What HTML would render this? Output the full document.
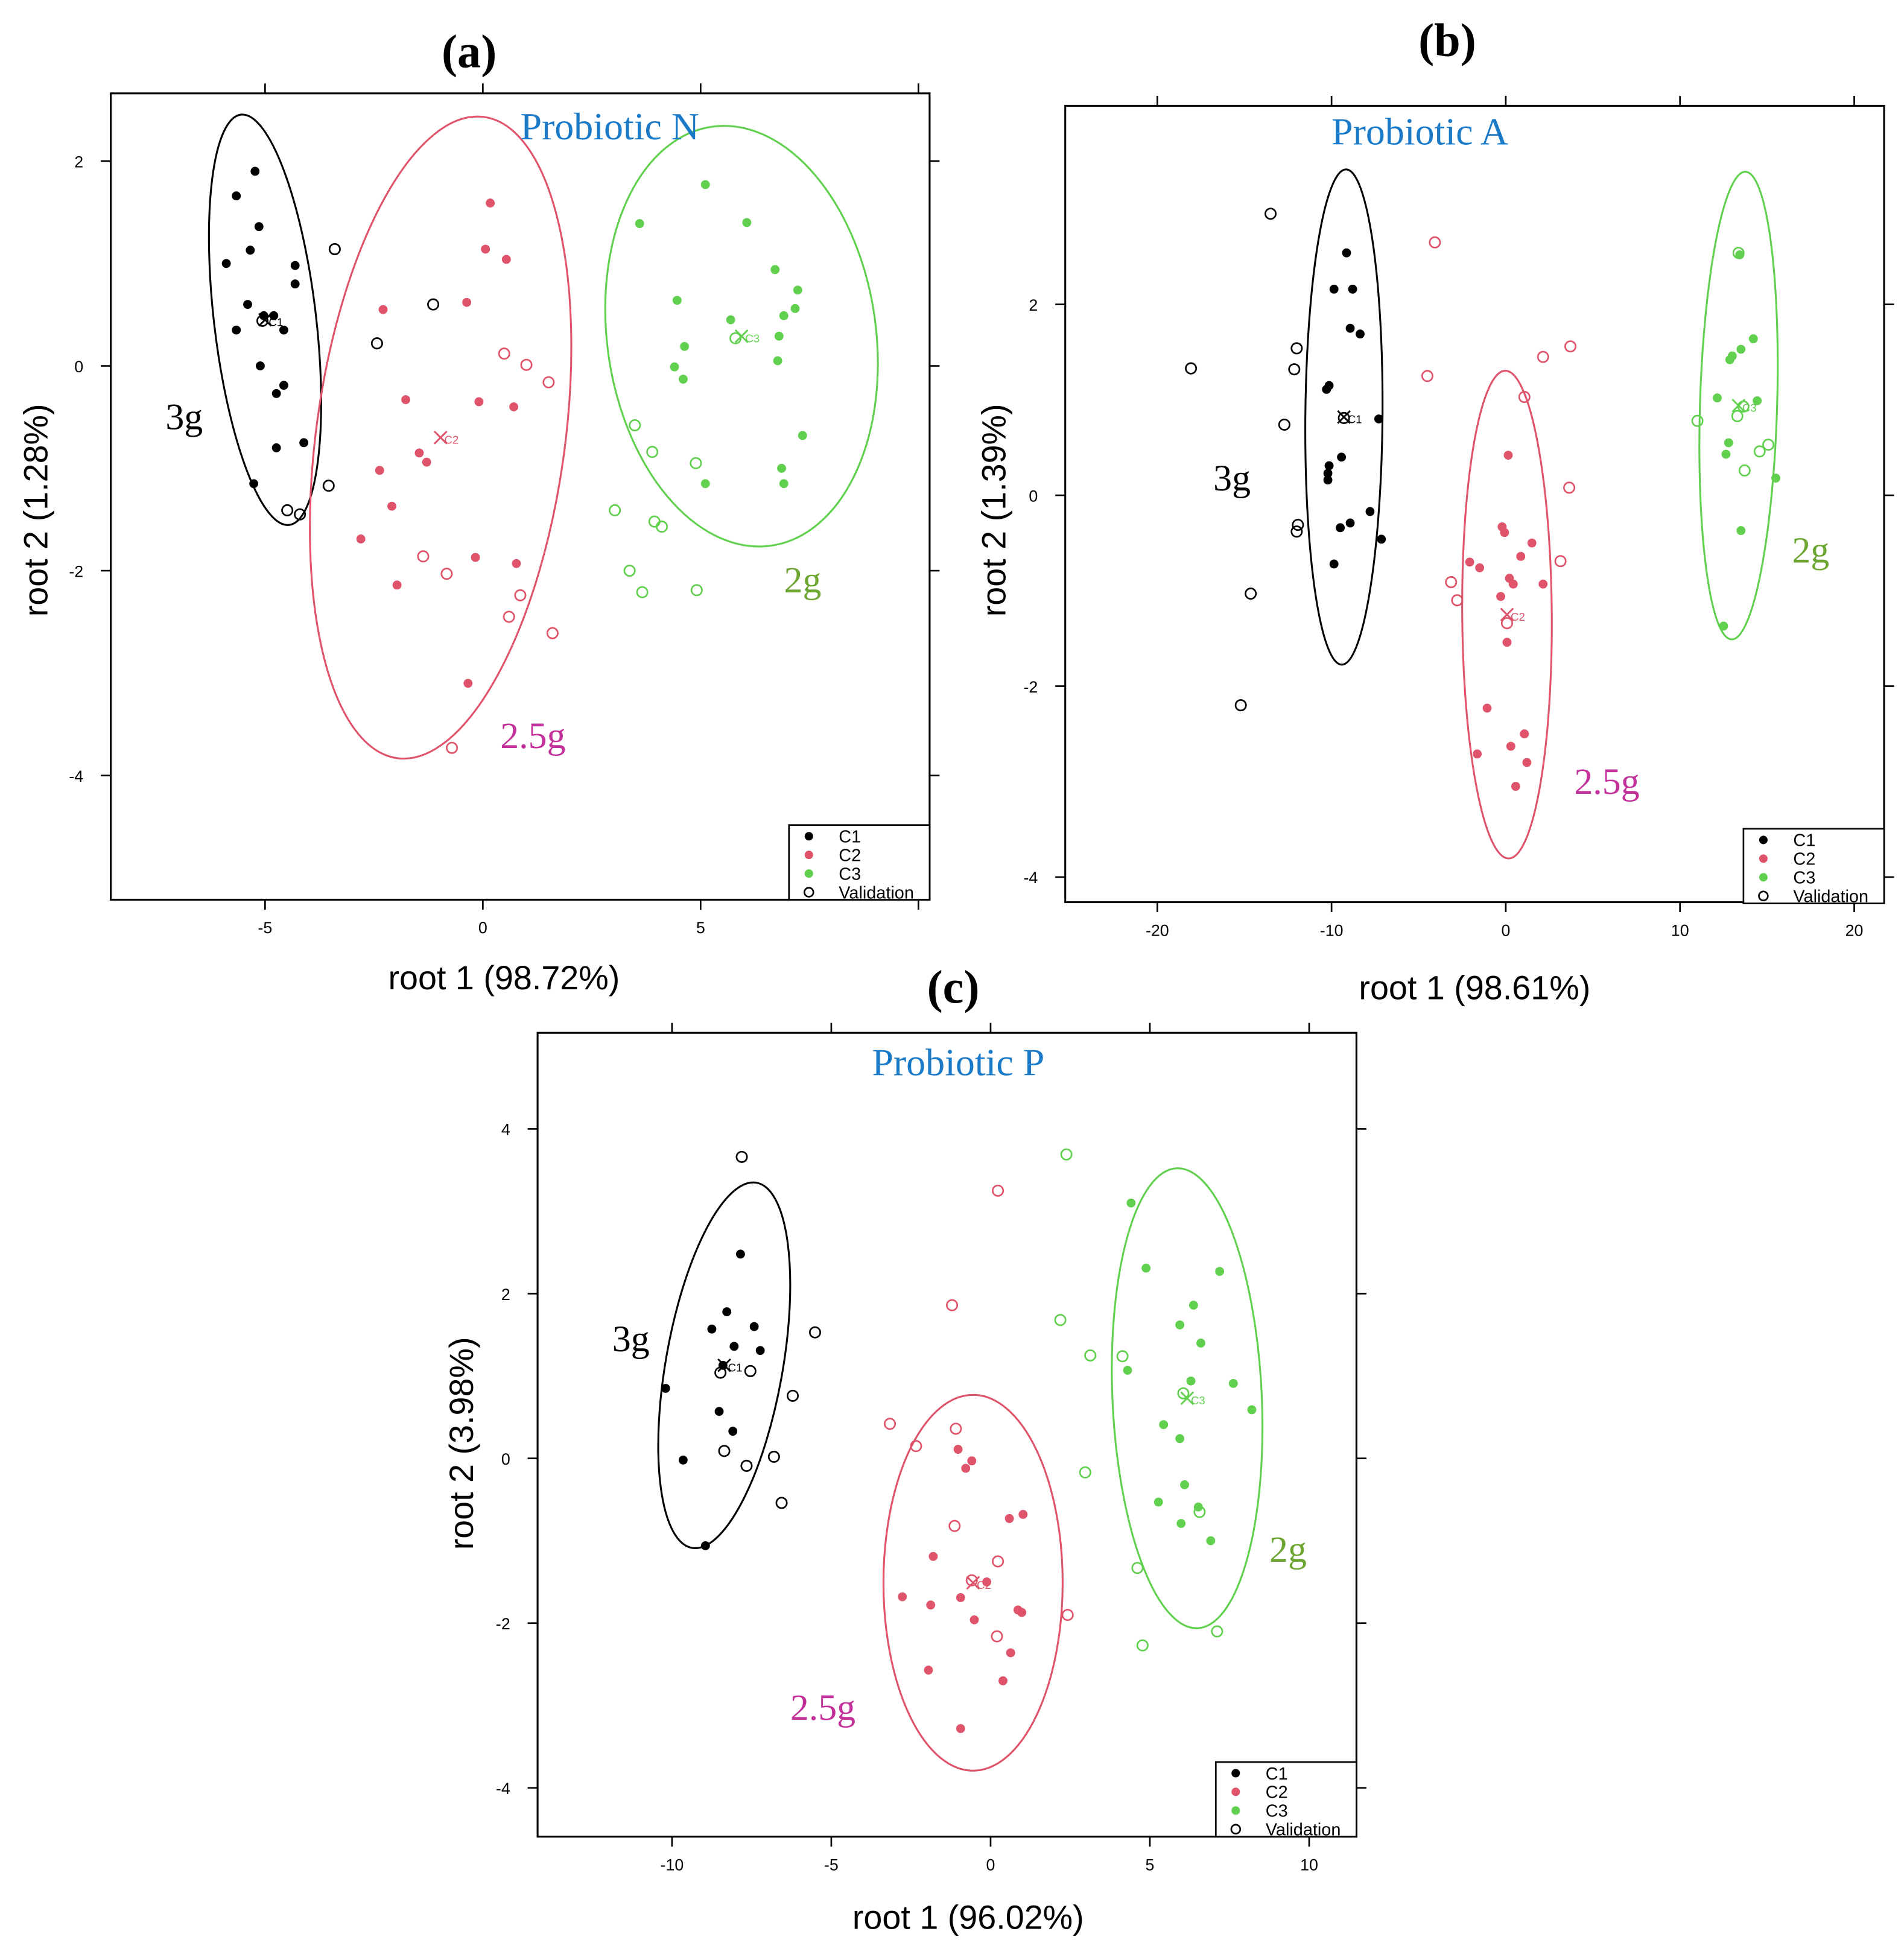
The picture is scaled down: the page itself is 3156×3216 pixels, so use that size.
<!DOCTYPE html>
<html><head><meta charset="utf-8"><style>
html,body{margin:0;padding:0;background:#fff;}
svg{display:block;}
</style></head><body>
<svg id="fig" xmlns="http://www.w3.org/2000/svg" width="3156" height="3216" viewBox="0 0 1530 1559">
<rect x="0" y="0" width="1530" height="1559" fill="#fff"/>
</svg>
<script>
// ---------- Panel (a) data ----------
const aC1x=[-5.23,-5.66,-5.14,-5.34,-5.89,-4.31,-4.31,-5.4,-5.66,-4.8,-4.57,-5.11,-4.57,-4.74,-4.74,-4.11,-5.26,-5.03];
const aC1y=[1.90,1.66,1.36,1.13,1.00,0.98,0.80,0.60,0.35,0.49,0.35,0,-0.19,-0.27,-0.8,-0.75,-1.15,0.49];
const aV1x=[-3.4,-1.14,-2.43,-3.54,-4.49,-4.2,-5.06];
const aV1y=[1.14,0.6,0.22,-1.17,-1.41,-1.45,0.44];
const aC2x=[0.17,0.06,0.54,-2.29,-0.37,-1.77,-0.09,0.71,-1.46,-1.29,-2.37,-2.09,-2.8,-0.17,0.77,-1.97,-0.34];
const aC2y=[1.59,1.14,1.04,0.55,0.62,-0.33,-0.35,-0.4,-0.85,-0.94,-1.02,-1.37,-1.69,-1.87,-1.93,-2.14,-3.1];
const aV2x=[0.49,1.0,1.51,-1.37,-0.83,0.86,0.6,1.6,-0.71];
const aV2y=[0.12,0.01,-0.16,-1.86,-2.03,-2.24,-2.45,-2.61,-3.73];
const aC3x=[5.11,3.6,6.06,6.71,7.23,4.46,7.17,6.91,5.69,6.8,4.63,6.77,4.4,4.6,7.34,6.86,6.91,5.11];
const aC3y=[1.77,1.39,1.4,0.94,0.74,0.64,0.56,0.49,0.45,0.29,0.19,0.05,-0.01,-0.13,-0.68,-1.0,-1.15,-1.15];
const aV3x=[5.8,3.49,3.89,4.89,3.03,3.94,4.11,3.37,3.66,4.91];
const aV3y=[0.27,-0.58,-0.84,-0.95,-1.41,-1.52,-1.57,-2.0,-2.21,-2.19];
const aCentX=[-5.0,-0.97,5.94];
const aCentY=[0.45,-0.7,0.29];
const aXTicks=[-5,0,5,10];
const aYTicks=[2,0,-2,-4];
// ---------- Panel (b) data ----------
const bC1x=[-9.14,-9.86,-8.79,-8.93,-8.36,-10.14,-10.29,-7.29,-9.43,-10.14,-10.21,-10.21,-7.79,-8.93,-9.5,-7.14,-9.86];
const bC1y=[2.54,2.16,2.16,1.75,1.69,1.15,1.11,0.8,0.4,0.31,0.23,0.16,-0.17,-0.29,-0.34,-0.46,-0.72];
const bV1x=[-13.5,-18.07,-12,-12.14,-12.71,-11.93,-12,-14.64,-15.21,-9.29];
const bV1y=[2.95,1.33,1.54,1.32,0.74,-0.31,-0.38,-1.03,-2.2,0.81];
const bC2x=[0.14,-0.21,-0.07,1.5,-2.07,0.86,-1.5,0.21,0.43,2.14,-0.29,0.07,-1.07,1.07,0.29,-1.64,1.21,0.57];
const bC2y=[0.42,-0.33,-0.39,-0.5,-0.7,-0.64,-0.76,-0.87,-0.93,-0.93,-1.06,-1.54,-2.23,-2.5,-2.63,-2.71,-2.8,-3.05];
const bV2x=[-4.07,3.71,-4.5,2.14,1.07,3.64,3.14,-3.14,-2.79,0.07];
const bV2y=[2.65,1.56,1.25,1.45,1.03,0.08,-0.69,-0.91,-1.1,-1.34];
const bC3x=[13.43,14.21,13.5,13,12.86,12.14,14.43,12.79,12.64,15.5,13.5,12.5];
const bC3y=[2.52,1.64,1.53,1.46,1.42,1.02,0.99,0.55,0.43,0.18,-0.37,-1.37];
const bV3x=[13.36,11,13.64,15.07,14.57,13.71,13.29];
const bV3y=[2.54,0.78,0.93,0.53,0.46,0.26,0.83];
const bCentX=[-9.29,0.07,13.36];
const bCentY=[0.82,-1.25,0.94];
const bXTicks=[-20,-10,0,10,20];
const bYTicks=[2,0,-2,-4];
// ---------- Panel (c) data ----------
const cC1x=[-7.85,-8.28,-8.75,-7.42,-8.05,-7.23,-8.4,-10.2,-8.52,-8.09,-9.65,-8.95];
const cC1y=[2.48,1.78,1.57,1.6,1.36,1.31,1.13,0.85,0.57,0.33,-0.02,-1.06];
const cV1x=[-7.81,-5.51,-7.54,-6.21,-8.36,-6.8,-7.66,-6.56,-8.48];
const cV1y=[3.66,1.53,1.06,0.76,0.09,0.02,-0.09,-0.54,1.04];
const cC2x=[-1.02,-0.59,-0.78,-1.8,0.59,1.02,-0.12,-0.94,-2.77,-1.88,0.86,0.98,-0.51,0.63,-1.95,0.39,-0.94];
const cC2y=[0.11,-0.03,-0.12,-1.19,-0.73,-0.68,-1.5,-1.69,-1.68,-1.78,-1.84,-1.87,-1.96,-2.36,-2.57,-2.7,-3.28];
const cV2x=[0.23,-1.21,-3.16,-1.09,-2.34,-1.13,0.23,2.42,0.2,-0.59];
const cV2y=[3.25,1.86,0.42,0.36,0.15,-0.82,-1.25,-1.9,-2.16,-1.48];
const cC3x=[4.41,4.88,7.19,6.37,5.94,6.6,4.3,7.62,6.29,8.2,5.43,5.94,6.09,5.27,6.52,5.98,6.91];
const cC3y=[3.1,2.31,2.27,1.86,1.62,1.4,1.07,0.91,0.94,0.59,0.41,0.24,-0.32,-0.53,-0.59,-0.79,-1.0];
const cV3x=[2.38,2.19,3.13,4.14,6.05,2.97,6.56,4.61,7.11,4.77];
const cV3y=[3.69,1.68,1.25,1.24,0.79,-0.17,-0.65,-1.33,-2.1,-2.27];
const cCentX=[-8.36,-0.55,6.17];
const cCentY=[1.13,-1.51,0.73];
const cXTicks=[-10,-5,0,5,10];
const cYTicks=[4,2,0,-2,-4];

const NS='http://www.w3.org/2000/svg';
const svg=document.getElementById('fig');
const COL=['#000000','#df536b','#61d04f'];
function mk(tag,attrs,parent){const e=document.createElementNS(NS,tag);for(const k in attrs)e.setAttribute(k,attrs[k]);(parent||svg).appendChild(e);return e;}

function panel(cfg){
  const g=mk('g',{});
  
  
  const sx=v=>cfg.x0px+(v-cfg.x0)*cfg.kx;
  const sy=v=>cfg.y0px-(v-cfg.y0)*cfg.ky;
  const B=cfg.box;
  // ellipses
  cfg.ell.forEach((e,i)=>{
    const el=mk('ellipse',{cx:0,cy:0,rx:e[0],ry:e[1],fill:'none',stroke:COL[i],'stroke-width':1.5,
      transform:`translate(${sx(cfg.cx[i])},${sy(cfg.cy[i])}) rotate(${e[2]})`},g);
    
    
  });
  // points
  const sets=[[cfg.c1x,cfg.c1y,0,true],[cfg.v1x,cfg.v1y,0,false],[cfg.c2x,cfg.c2y,1,true],[cfg.v2x,cfg.v2y,1,false],[cfg.c3x,cfg.c3y,2,true],[cfg.v3x,cfg.v3y,2,false]];
  sets.forEach(s=>{
    s[0].forEach((xv,j)=>{
      const c=mk('circle',{cx:sx(xv),cy:sy(s[1][j]),r:s[3]?3.6:4.2,fill:s[3]?COL[s[2]]:'none',stroke:s[3]?'none':COL[s[2]],'stroke-width':1.3},g);
      
      
    });
  });
  // centroids
  cfg.cx.forEach((xv,i)=>{
    const px=sx(xv),py=sy(cfg.cy[i]);
    const cg=mk('g',{stroke:COL[i],'stroke-width':1.4},g);
    
    
    mk('line',{x1:px-5,y1:py-5,x2:px+5,y2:py+5},cg);
    mk('line',{x1:px-5,y1:py+5,x2:px+5,y2:py-5},cg);
    const t=mk('text',{x:px+3,y:py+5,'font-size':9,fill:COL[i],stroke:'none','font-family':'Liberation Sans, sans-serif'},cg);
    t.textContent='C'+(i+1);
  });
  // frame
  const fr=mk('rect',{x:B[0],y:B[1],width:B[2]-B[0],height:B[3]-B[1],fill:'none',stroke:'#000','stroke-width':1.5},g);
  
  
  // ticks
  cfg.xt.forEach(v=>{
    const px=sx(v);
    mk('line',{x1:px,y1:B[3],x2:px,y2:B[3]+8,stroke:'#000','stroke-width':1.3},g);
    mk('line',{x1:px,y1:B[1],x2:px,y2:B[1]-8,stroke:'#000','stroke-width':1.3},g);
    if(v!==cfg.xt[cfg.xt.length-1]||cfg.lastLabel){
      const t=mk('text',{x:px,y:B[3]+27,'text-anchor':'middle','font-size':13,'font-family':'Liberation Sans, sans-serif'},g);
      t.textContent=v;
      
      
    }
  });
  cfg.yt.forEach(v=>{
    const py=sy(v);
    mk('line',{x1:B[0],y1:py,x2:B[0]-8,y2:py,stroke:'#000','stroke-width':1.3},g);
    mk('line',{x1:B[2],y1:py,x2:B[2]+8,y2:py,stroke:'#000','stroke-width':1.3},g);
    const t=mk('text',{x:B[0]-22,y:py+5,'text-anchor':'end','font-size':13,'font-family':'Liberation Sans, sans-serif'},g);
    t.textContent=v;
    
    
  });
  // legend
  const L=cfg.leg;
  const lg=mk('g',{},g);
  
  
  mk('rect',{x:L[0],y:L[1],width:113,height:60,fill:'#fff',stroke:'#000','stroke-width':1.3},lg);
  ['C1','C2','C3','Validation'].forEach((lab,i)=>{
    const yy=L[1]+9+i*15;
    if(i<3) mk('circle',{cx:L[0]+16,cy:yy,r:3.4,fill:COL[i]},lg);
    else mk('circle',{cx:L[0]+16,cy:yy,r:3.6,fill:'none',stroke:'#000','stroke-width':1.3},lg);
    const t=mk('text',{x:L[0]+40,y:yy+5,'font-size':14,'font-family':'Liberation Sans, sans-serif'},lg);
    t.textContent=lab;
    
    
  });
  // titles
  const T=(txt,x,y,attrs,name)=>{const t=mk('text',Object.assign({x:x,y:y},attrs),g);t.textContent=txt;return t;};
  const serif={'font-family':'Liberation Serif, serif'};
  T(cfg.label,cfg.labelPos[0],cfg.labelPos[1],Object.assign({'font-size':38,'font-weight':'bold','text-anchor':'middle'},serif),'panel-label');
  T(cfg.title,cfg.titlePos[0],cfg.titlePos[1],Object.assign({'font-size':31,fill:'#1b7ac7','text-anchor':'middle'},serif),'chart-title');
  cfg.groups.forEach((gr,i)=>T(gr[0],gr[1],gr[2],Object.assign({'font-size':30,fill:gr[3]},serif),'group-label'));
  T(cfg.xlab,cfg.xlabPos[0],cfg.xlabPos[1],{'font-size':27,'text-anchor':'middle','font-family':'Liberation Sans, sans-serif'},'x-axis-title');
  T(cfg.ylab,0,0,{'font-size':27,'text-anchor':'middle','font-family':'Liberation Sans, sans-serif',transform:`translate(${cfg.ylabPos[0]},${cfg.ylabPos[1]}) rotate(-90)`},'y-axis-title');
}

panel({name:'panel-a',x0:0,x0px:388,kx:35,y0:0,y0px:294,ky:82.3,box:[89,75,747,723],
  c1x:aC1x,c1y:aC1y,v1x:aV1x,v1y:aV1y,c2x:aC2x,c2y:aC2y,v2x:aV2x,v2y:aV2y,c3x:aC3x,c3y:aC3y,v3x:aV3x,v3y:aV3y,
  cx:aCentX,cy:aCentY,xt:aXTicks,yt:aYTicks,lastLabel:false,
  ell:[[41,166,-6.7],[100,260,7.7],[108,170,-8]],leg:[634,663],
  label:'(a)',labelPos:[377,54],title:'Probiotic N',titlePos:[490,112],
  groups:[['3g',133,345,'#000'],['2.5g',402,601,'#c2329a'],['2g',630,476,'#6da632']],
  xlab:'root 1 (98.72%)',xlabPos:[405,795],ylab:'root 2 (1.28%)',ylabPos:[38,410]});
panel({name:'panel-b',x0:0,x0px:1210,kx:14,y0:0,y0px:398,ky:76.7,box:[856,85,1514,725],
  c1x:bC1x,c1y:bC1y,v1x:bV1x,v1y:bV1y,c2x:bC2x,c2y:bC2y,v2x:bV2x,v2y:bV2y,c3x:bC3x,c3y:bC3y,v3x:bV3x,v3y:bV3y,
  cx:bCentX,cy:bCentY,xt:bXTicks,yt:bYTicks,lastLabel:true,
  ell:[[31,199,0.5],[36,196,-0.4],[31,188,1.7]],leg:[1401,666],
  label:'(b)',labelPos:[1163,45],title:'Probiotic A',titlePos:[1141,116],
  groups:[['3g',975,394,'#000'],['2.5g',1265,638,'#c2329a'],['2g',1440,452,'#6da632']],
  xlab:'root 1 (98.61%)',xlabPos:[1185,803],ylab:'root 2 (1.39%)',ylabPos:[808,410]});
panel({name:'panel-c',x0:0,x0px:796,kx:25.6,y0:0,y0px:1172,ky:66.2,box:[432,830,1090,1476],
  c1x:cC1x,c1y:cC1y,v1x:cV1x,v1y:cV1y,c2x:cC2x,c2y:cC2y,v2x:cV2x,v2y:cV2y,c3x:cC3x,c3y:cC3y,v3x:cV3x,v3y:cV3y,
  cx:cCentX,cy:cCentY,xt:cXTicks,yt:cYTicks,lastLabel:true,
  ell:[[47,149,10],[72,151,0],[60,185,-2.6]],leg:[977,1416],
  label:'(c)',labelPos:[766,806],title:'Probiotic P',titlePos:[770,864],
  groups:[['3g',492,1086,'#000'],['2.5g',635,1382,'#c2329a'],['2g',1020,1255,'#6da632']],
  xlab:'root 1 (96.02%)',xlabPos:[778,1550],ylab:'root 2 (3.98%)',ylabPos:[380,1160]});
</script>
</body></html>
